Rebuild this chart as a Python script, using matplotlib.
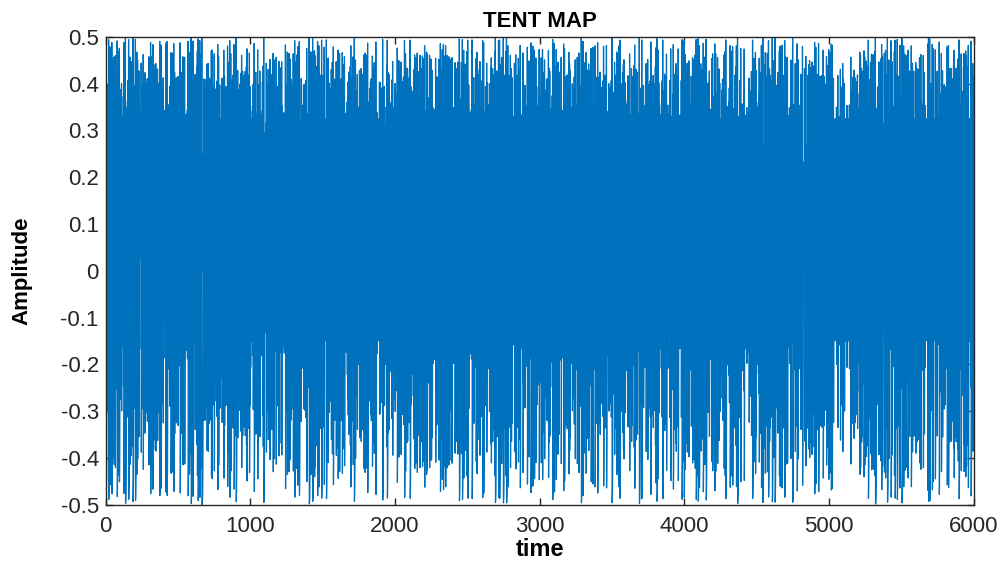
import numpy as np
import matplotlib
matplotlib.use('Agg')
import matplotlib.pyplot as plt

# Tent map settings (the series in the chart is an orbit of this map)
mu = 1.99999
x0 = 0.3141
nSteps = 6000

orbit = [x0]
for _ in range(nSteps):
    x = orbit[-1]
    orbit.append(mu * x if x < 0.5 else mu * (1 - x))
orbit = np.array(orbit) - 0.5
timeSteps = np.arange(len(orbit))

xTicks = [0, 1000, 2000, 3000, 4000, 5000, 6000]
yTicks = [-0.5, -0.4, -0.3, -0.2, -0.1, 0, 0.1, 0.2, 0.3, 0.4, 0.5]
yTickLabels = ['-0.5', '-0.4', '-0.3', '-0.2', '-0.1', '0',
               '0.1', '0.2', '0.3', '0.4', '0.5']

plt.rcParams['font.family'] = ['Liberation Sans', 'DejaVu Sans']

fig = plt.figure(figsize=(10.07, 5.66), dpi=100)
ax = fig.add_axes([0.105, 0.108, 0.862, 0.827])

ax.plot(timeSteps, orbit, color='#0072BD', linewidth=0.9)

ax.set_xlim(0, 6000)
ax.set_ylim(-0.5, 0.5)
ax.set_xticks(xTicks)
ax.set_yticks(yTicks)
ax.set_yticklabels(yTickLabels)

ax.tick_params(direction='in', top=True, right=True, length=5,
               width=1, color='#262626', labelcolor='#262626',
               labelsize=16)
ax.tick_params(axis='y', pad=5)
ax.tick_params(axis='x', pad=8)
for spine in ax.spines.values():
    spine.set_color('#262626')
    spine.set_linewidth(1)

ax.set_title('TENT MAP', fontsize=16, fontweight='bold', pad=7)
ax.set_xlabel('time', fontsize=17, fontweight='bold', labelpad=1)
ax.set_ylabel('Amplitude', fontsize=16, fontweight='bold', labelpad=20)

fig.savefig('out.png', dpi=100)
